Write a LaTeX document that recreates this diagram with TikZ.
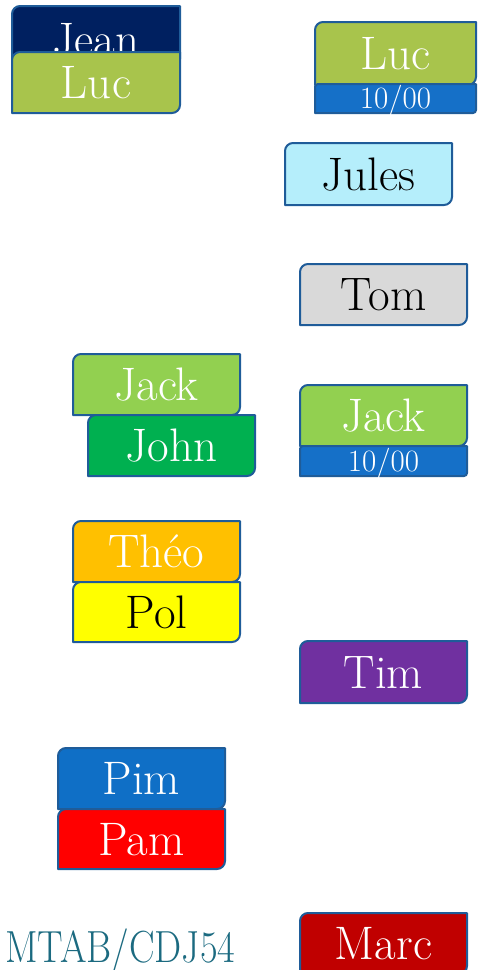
\documentclass[tikz,border=0pt]{standalone}
\usepackage{graphicx}
\definecolor{bord}{HTML}{1F5C99}
\definecolor{navy}{HTML}{002060}
\definecolor{olive}{HTML}{A8C44C}
\definecolor{barblue}{HTML}{1570C8}
\definecolor{cyanl}{HTML}{B5EEFB}
\definecolor{greyl}{HTML}{D9D9D9}
\definecolor{lgreen}{HTML}{92D050}
\definecolor{dgreen}{HTML}{00B050}
\definecolor{orng}{HTML}{FFC000}
\definecolor{yell}{HTML}{FFFF00}
\definecolor{purp}{HTML}{7030A0}
\definecolor{pblue}{HTML}{0F6FC6}
\definecolor{pred}{HTML}{FF0000}
\definecolor{dred}{HTML}{C00000}
\definecolor{tealc}{HTML}{1B6A80}
\tikzset{
  boxline/.style={draw=bord, line width=2pt, line join=round},
  namelabel/.style={font=\fontsize{47}{47}\selectfont, anchor=base, inner sep=0pt},
  datelabel/.style={font=\fontsize{31}{31}\selectfont, anchor=base, inner sep=0pt},
}
\def\brad{8}\def\bsty{namelabel}\def\boff{15}
% name, left, top, right, bottom, fill, text colour, text
\newcommand\genbox[8]{%
  \draw[boxline, fill=#6] (#2pt,-#5pt) -- (#2pt,-#3pt-\brad pt)
     arc[start angle=180, end angle=90, radius=\brad pt] -- (#4pt,-#3pt)
     -- (#4pt,-#5pt+\brad pt) arc[start angle=0, end angle=-90, radius=\brad pt] -- cycle;
  \node[\bsty, text=#7] (#1) at ({(#2pt+#4pt)/2}, {-(#3pt+#5pt)/2-\boff pt}) {#8};
}
\newcommand\dbox{\def\brad{8}\def\bsty{namelabel}\def\boff{16}\genbox}
\newcommand\dboxlow{\def\brad{8}\def\bsty{namelabel}\def\boff{19}\genbox}
\newcommand\dbar{\def\brad{3}\def\bsty{datelabel}\def\boff{10}\genbox}
\begin{document}
\begin{tikzpicture}
\useasboundingbox (0,0) rectangle (477pt,-970pt);
\dboxlow{jean}{12}{6}{180}{67}{navy}{white}{Jean}
\dbox{lucl}{12}{52}{180}{113}{olive}{white}{Luc}
\dbox{lucr}{315}{22}{476}{85}{olive}{white}{Luc}
\dbar{dater}{315}{84}{476}{113}{barblue}{white}{10/00}
\dbox{jules}{285}{143}{452}{205}{cyanl}{black}{Jules}
\dbox{tom}{300}{264}{467}{325}{greyl}{black}{Tom}
\dbox{jackl}{73}{354}{240}{415}{lgreen}{white}{Jack}
\dbox{john}{88}{415}{255}{476}{dgreen}{white}{John}
\dbox{jackr}{300}{385}{467}{446}{lgreen}{white}{Jack}
\dbar{datej}{300}{446}{467}{476}{barblue}{white}{10/00}
\dbox{theo}{73}{521}{240}{582}{orng}{white}{Théo}
\dbox{pol}{73}{582}{240}{642}{yell}{black}{Pol}
\dbox{tim}{300}{641}{467}{703}{purp}{white}{Tim}
\dbox{pim}{58}{748}{225}{809}{pblue}{white}{Pim}
\dbox{pam}{58}{809}{225}{869}{pred}{white}{Pam}
\dbox{marc}{300}{913}{467}{974}{dred}{white}{Marc}
\node[anchor=base west, inner sep=0pt, text=tealc, font=\fontsize{45}{45}\selectfont] (mtab) at (5pt,-962pt) {\scalebox{0.85}[1]{MTAB/CDJ54}};
\end{tikzpicture}
\end{document}
